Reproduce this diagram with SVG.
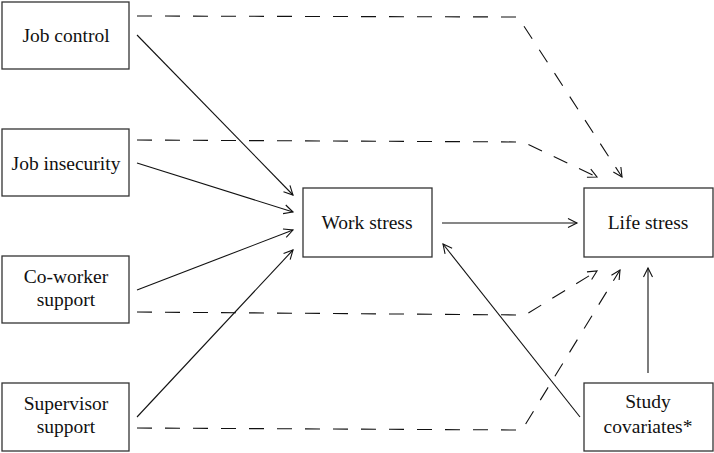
<svg xmlns="http://www.w3.org/2000/svg" width="714" height="453" viewBox="0 0 714 453">
<style>
.box{fill:#fff;stroke:#333;stroke-width:1.3}
.t{font-family:"Liberation Serif","Times New Roman",serif;font-size:19.5px;fill:#111;text-anchor:middle}
.s{fill:none;stroke:#111;stroke-width:1.1;marker-end:url(#ah)}
.d{fill:none;stroke:#111;stroke-width:1.1;stroke-dasharray:15 13;marker-end:url(#ah)}
</style>
<defs>
<marker id="ah" markerUnits="userSpaceOnUse" markerWidth="12" markerHeight="12" refX="10" refY="5" orient="auto" viewBox="0 0 12 10">
<path d="M1,0.5 L10,5 L1,9.5" fill="none" stroke="#111" stroke-width="1.1"/>
</marker>
</defs>
<g id="connectors">
<path class="d" d="M137,16 L518,17 L622,177"/>
<path class="d" d="M137,140 L523,142 L597,177"/>
<path class="d" d="M137,312 L525,315 L597,271"/>
<path class="d" d="M137,428 L522,430 L620,270"/>
<path class="s" d="M137,35 L293,195"/>
<path class="s" d="M137,163 L293,212"/>
<path class="s" d="M137,290 L293,230"/>
<path class="s" d="M137,417 L293,250"/>
<path class="s" d="M442,223 L577,223"/>
<path class="s" d="M580,417 L443,244"/>
<path class="s" d="M648,373 L648,268"/>
</g>
<g id="job-control"><rect class="box" x="2" y="2" width="127" height="67"/><text class="t" x="66" y="42">Job control</text></g>
<g id="job-insecurity"><rect class="box" x="2" y="129" width="127" height="67"/><text class="t" x="66" y="170">Job insecurity</text></g>
<g id="coworker-support"><rect class="box" x="2" y="256" width="127" height="67"/><text class="t" x="66" y="283">Co-worker</text><text class="t" x="66" y="306">support</text></g>
<g id="supervisor-support"><rect class="box" x="2" y="383" width="127" height="68"/><text class="t" x="66" y="410">Supervisor</text><text class="t" x="66" y="433">support</text></g>
<g id="work-stress"><rect class="box" x="303" y="188" width="129" height="69"/><text class="t" x="367" y="229">Work stress</text></g>
<g id="life-stress"><rect class="box" x="584" y="188" width="129" height="69"/><text class="t" x="648" y="229">Life stress</text></g>
<g id="study-covariates"><rect class="box" x="584" y="383" width="129" height="68"/><text class="t" x="648" y="408">Study</text><text class="t" x="648" y="433">covariates*</text></g>
</svg>
